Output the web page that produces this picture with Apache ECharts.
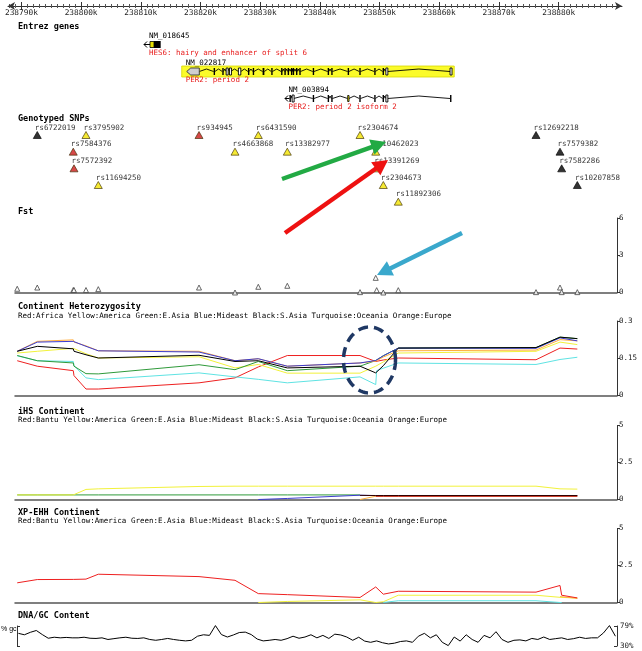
<!DOCTYPE html>
<html><head><meta charset="utf-8">
<script src="https://cdn.jsdelivr.net/npm/echarts@6/dist/echarts.min.js"></script>
<style>html,body{margin:0;padding:0;background:#fff}#c{width:642px;height:651px}</style>
</head><body><div id="c"></div>
<script>
// ================= DATA =================
const axisMajorKb = [238790,238800,238810,238820,238830,238840,238850,238860,238870,238880];

const geneIds = ['NM_018645','NM_022817','NM_003894'];
const geneDesc = ['HES6: hairy and enhancer of split 6','PER2: period 2','PER2: period 2 isoform 2'];
const geneTxStart = [238810.54, 238817.69, 238834.16];
const geneHighlighted = [false, true, false];
const geneExonStart = [
  [238811.54, 238812.21],
  [238817.69,238822.20,238823.65,238824.30,238824.85,238826.35,238827.95,238828.75,238830.40,238831.85,238833.50,238834.05,238834.60,238835.15,238835.45,238836.00,238836.55,238838.80,238841.30,238841.90,238844.65,238846.60,238849.10,238850.50,238851.05,238861.80],
  [238834.90,238835.35,238838.80,238841.30,238841.90,238844.65,238846.60,238849.10,238850.50,238851.05,238861.80]
];
const geneExonEnd = [
  [238812.21, 238813.33],
  [238819.80,238822.40,238823.85,238824.50,238825.05,238826.75,238828.15,238828.95,238830.70,238832.05,238833.70,238834.25,238834.80,238835.35,238835.65,238836.20,238836.75,238839.00,238841.50,238842.10,238844.85,238846.80,238849.30,238850.70,238851.35,238862.00],
  [238835.10,238835.60,238839.00,238841.50,238842.10,238844.85,238846.80,238849.30,238850.70,238851.35,238862.00]
];
const geneExonType = [
  ['yellow','cds'],
  ['utr','cds','cds','open','open','open','cds','cds','cds','cds','cds','cds','cds','cds','cds','cds','cds','cds','cds','cds','cds','cds','cds','cds','open','open'],
  ['cds','open','cds','cds','cds','yellow','cds','cds','cds','open','cds']
];

// SNPs (position in kb)
const snpNames = ['', 'rs6722019','rs7584376','rs7572392','rs3795902','rs11694250','rs934945','rs4663868','rs6431590','rs13382977','rs2304674','rs10462023','rs13391269','rs2304673','rs11892306','rs12692218','rs7579382','rs7582286','rs10207858'];
const snpPos = [238789.30,238792.66,238798.69,238798.81,238800.82,238802.88,238819.75,238825.78,238829.68,238834.54,238846.72,238849.35,238849.51,238850.62,238853.13,238876.20,238880.22,238880.50,238883.12];
const snpRow = [null,0,1,2,0,3,0,1,0,1,0,1,2,3,4,0,1,2,3];
const snpClass = [null,'black','red','red','yellow','yellow','red','yellow','yellow','yellow','yellow','yellow','yellow','yellow','yellow','black','black','black','black'];

// Fst at each SNP
const fstVal = [0.3,0.4,0.2,0.2,0.2,0.27,0.4,0,0.46,0.54,0.03,1.18,0.19,0,0.19,0.03,0.4,0.03,0.03];

// Continent heterozygosity at each SNP
const hetAfrica   = [0.140,0.118,0.100,0.080,0.026,0.026,0.051,0.071,0.115,0.161,0.161,0.137,0.140,0.143,0.151,0.144,0.191,0.190,0.187];
const hetAmerica  = [0.171,0.178,0.190,0.186,0.168,0.151,0.156,0.111,0.125,0.090,0.090,0.118,0.120,0.135,0.171,0.178,0.215,0.213,0.205];
const hetEAsia    = [0.161,0.140,0.131,0.118,0.088,0.087,0.124,0.104,0.137,0.100,0.118,0.141,0.145,0.160,0.191,0.193,0.235,0.233,0.229];
const hetOceania  = [0.160,0.140,0.137,0.120,0.071,0.064,0.091,0.075,0.065,0.051,0.075,0.044,0.100,0.110,0.131,0.125,0.145,0.147,0.154];
const hetEurope   = [0.178,0.218,0.224,0.215,0.200,0.180,0.178,0.140,0.148,0.118,0.131,0.138,0.140,0.155,0.180,0.183,0.225,0.224,0.220];
const hetMideast  = [0.178,0.215,0.218,0.212,0.198,0.180,0.175,0.140,0.148,0.118,0.131,0.141,0.145,0.160,0.191,0.190,0.232,0.230,0.220];
const hetSAsia    = [0.178,0.198,0.188,0.178,0.164,0.151,0.162,0.137,0.140,0.111,0.118,0.091,0.095,0.120,0.191,0.193,0.235,0.234,0.229];

// iHS at each SNP
const ihsEAsia   = [0.31,0.31,0.31,0.31,0.31,0.31,0.31,0.31,0.31,0.31,0.31,null,null,null,null,null,null,null,null];
const ihsAmerica = [0.31,0.31,0.31,0.35,0.68,0.72,0.88,0.90,0.90,0.90,0.90,0.90,0.90,0.90,0.90,0.90,0.72,0.70,0.70];
const ihsMideast = [null,null,null,null,null,null,null,null,0,0.07,0.29,0.26,0.26,0.26,0.26,0.26,0.26,0.26,0.26];
const ihsEurope  = [null,null,null,null,null,null,null,null,null,null,0,0.22,0.22,0.22,0.22,0.22,0.22,0.22,0.22];
const ihsBantu   = [null,null,null,null,null,null,null,null,null,null,null,0.22,0.22,0.22,0.22,0.22,0.22,0.22,0.22];
const ihsSAsia   = [null,null,null,null,null,null,null,null,null,null,0.28,0.27,0.27,0.27,0.27,0.27,0.27,0.27,0.27];

// XP-EHH at each SNP
const xpBantu    = [1.33,1.55,1.56,1.56,1.58,1.91,1.75,1.50,0.60,0.53,0.34,1.05,0.98,0.56,0.76,0.70,1.15,0.49,0.31];
const xpAmerica  = [null,null,null,null,null,null,null,null,0,0.07,0.18,0,0,0.05,0.49,0.49,0.35,0.35,0.30];
const xpOceania  = [null,null,null,null,null,null,null,null,null,null,null,null,null,0,0.12,0.12,0,0,null];
const xpEurope   = [null,null,null,null,null,null,null,null,null,null,null,null,null,null,null,null,0.40,0.42,0.28];

// GC content (%), 1 kb windows
const gcStartKb = 238789.5;
const gcStepKb = 1;
const gcVal = [61,57.5,63.5,68,58,49,51.5,50,51,50,50,51.5,49,48.5,50,46,48,50,51.5,49,48.5,50,46,44,46,48.5,46,44,42.5,44,54,57.5,56,80,58,52,57,63,64,58,47,42.5,44,46,44,48,54,49,52,57.5,50,56,48.5,59,57,52,44,51.5,42,39,42.5,38,35,37,41,42.5,39,54,61,50,57.5,39,31,52,42,57.5,46,39,56,50,65,46,39,44,45,42.5,48.5,46,52,46,48,50,46,48,51.5,48.5,50,50,62,80,54];

const hetLegend = 'Red:Africa Yellow:America Green:E.Asia Blue:Mideast Black:S.Asia Turquoise:Oceania Orange:Europe';
const popLegend = 'Red:Bantu Yellow:America Green:E.Asia Blue:Mideast Black:S.Asia Turquoise:Oceania Orange:Europe';

// ================= LAYOUT =================
const PX0 = 21.4, PX_PER_KB = 5.97;
const kbAt = px => 238790 + (px - PX0) / PX_PER_KB;
const MONOFAM = 'DejaVu Sans Mono';
const MONO = '"DejaVu Sans Mono", monospace';
const smallFont = '7.5px ' + MONO;
const titleFont = 'bold 8.5px ' + MONO;
const COL = {red:'#ee2020', yellow:'#f2f23a', green:'#2f9a3a', blue:'#3c3cd0', black:'#000000', turq:'#5fe3e3', orange:'#ffae3c'};
const snpColors = {black:'#000000', red:'#cc1a1a', yellow:'#f2e300'};

const PL = 15, PR = 642 - 617;
const pMin = kbAt(PL), pMax = kbAt(617);

const grids = [
  {left:8, right:20, top:5, height:1},            // 0 top ruler
  {left:PL, right:PR, top:30, height:82},          // 1 genes
  {left:PL, right:PR, top:126.67, height:83.33},   // 2 snps
  {left:PL, right:PR, top:218, height:74.5},       // 3 fst
  {left:PL, right:PR, top:321, height:74.5},       // 4 het
  {left:PL, right:PR, top:425.5, height:74},       // 5 ihs
  {left:PL, right:PR, top:528.5, height:74},       // 6 xp-ehh
  {left:17, right:PR, top:626, height:20}          // 7 gc
].map(g => Object.assign({outerBoundsMode:'none', containLabel:false}, g));

const minors = [];
for (let k = 238788; k <= 238890; k++) if (k % 10) minors.push(k);

const rulerBase = {gridIndex:0, type:'value', min:kbAt(8), max:kbAt(622), position:'bottom', splitLine:{show:false}, axisLine:{show:false, onZero:false}, axisLabel:{show:false}};
const xAxes = [
  Object.assign({}, rulerBase, {
    axisLine:{show:true, onZero:false, symbol:['arrow','arrow'], symbolSize:[6,7], lineStyle:{color:'#333', width:1}},
    axisTick:{show:true, customValues:axisMajorKb, length:4, lineStyle:{color:'#333'}},
    axisLabel:{show:true, customValues:axisMajorKb, formatter:v => Math.round(v) + 'k', fontSize:7.8, fontFamily:MONOFAM, color:'#222', margin:3}
  }),
  Object.assign({}, rulerBase, {axisTick:{show:true, inside:true, customValues:axisMajorKb, length:4, lineStyle:{color:'#333'}}}),
  Object.assign({}, rulerBase, {axisTick:{show:true, customValues:minors, length:2, lineStyle:{color:'#555'}}}),
  Object.assign({}, rulerBase, {axisTick:{show:true, inside:true, customValues:minors, length:2, lineStyle:{color:'#555'}}})
];
const baseLineAxis = {show:true, onZero:false, lineStyle:{color:'#555', width:1.5}};
for (let gi = 1; gi <= 7; gi++) {
  const showBase = gi >= 3 && gi <= 6;
  xAxes.push({gridIndex:gi, type:'value', min:gi === 7 ? kbAt(17) : pMin, max:pMax, show:showBase,
    axisLine:showBase ? baseLineAxis : {show:false, onZero:false},
    axisTick:{show:false}, axisLabel:{show:false}, splitLine:{show:false}});
}

const rightAxis = (gi, max, vals) => ({gridIndex:gi, type:'value', position:'right', min:0, max:max,
  axisLine:{show:true, lineStyle:{color:'#333'}}, axisTick:{show:true, customValues:vals, length:3, lineStyle:{color:'#333'}},
  axisLabel:{show:true, customValues:vals, fontSize:7.5, fontFamily:MONOFAM, color:'#222', margin:2}, splitLine:{show:false}});
const yAxes = [
  {gridIndex:0, type:'value', show:false},
  {gridIndex:1, type:'value', show:false, min:0, max:3, inverse:true},
  {gridIndex:2, type:'value', show:false, min:-0.5, max:4.5, inverse:true},
  rightAxis(3, 6, [0,3,6]),
  rightAxis(4, 0.3, [0,0.15,0.3]),
  rightAxis(5, 5, [0,2.5,5]),
  rightAxis(6, 5, [0,2.5,5]),
  {gridIndex:7, type:'value', position:'left', min:30, max:79, axisLine:{show:true, lineStyle:{color:'#333'}},
    axisTick:{show:true, inside:true, customValues:[30,79], length:3, lineStyle:{color:'#333'}}, axisLabel:{show:false}, splitLine:{show:false}},
  {gridIndex:7, type:'value', position:'right', min:30, max:79, axisLine:{show:true, lineStyle:{color:'#333'}},
    axisTick:{show:true, inside:true, customValues:[30,79], length:3, lineStyle:{color:'#333'}},
    axisLabel:{show:true, customValues:[30,79], formatter:v => v + '%', fontSize:7.5, fontFamily:MONOFAM, color:'#222', margin:3}, splitLine:{show:false}}
];

// ---- gene custom data ----
const typeCode = {cds:2, open:3, utr:4, yellow:5};
const geneData = [];
geneIds.forEach((id, g) => {
  if (geneHighlighted[g]) geneData.push([geneTxStart[g], geneExonEnd[g][geneExonEnd[g].length - 1], 8, g, g + 0.5]);
});
geneIds.forEach((id, g) => {
  const st = geneExonStart[g], en = geneExonEnd[g];
  if (geneTxStart[g] < st[0]) geneData.push([geneTxStart[g], st[0], 0, g, g + 0.5]);
  for (let i = 0; i < st.length - 1; i++) if (st[i + 1] > en[i]) geneData.push([en[i], st[i + 1], 1, g, g + 0.5]);
});
geneIds.forEach((id, g) => {
  const st = geneExonStart[g], en = geneExonEnd[g], ty = geneExonType[g];
  for (let i = 0; i < st.length; i++) geneData.push([st[i], en[i], typeCode[ty[i]], g, g + 0.5]);
  geneData.push([st[0], st[0], 9, g, g + 0.5]);
});

function renderGene(params, api) {
  const s = api.value(0), e = api.value(1), kind = api.value(2), g = api.value(3), row = api.value(4);
  const p1 = api.coord([s, row]), p2 = api.coord([e, row]);
  const y = Math.round(p1[1]) + 0.5;
  const x1 = p1[0], x2 = Math.max(p2[0], p1[0] + 1.4);
  if (kind === 8) return {type:'rect', shape:{x:x1 - 5, y:y - 5.5, width:(p2[0] + 3) - (x1 - 5), height:11}, style:{fill:'#fbfb2a', stroke:'#d8d800', lineWidth:0.8}};
  if (kind === 0) return {type:'group', children:[
    {type:'line', shape:{x1:x1, y1:y, x2:p2[0], y2:y}, style:{stroke:'#000', lineWidth:1}},
    {type:'polyline', shape:{points:[[x1 + 3, y - 3], [x1, y], [x1 + 3, y + 3]]}, style:{stroke:'#000', fill:null, lineWidth:1}}]};
  if (kind === 1) {
    const m = (x1 + p2[0]) / 2;
    return {type:'polyline', shape:{points:[[x1, y], [m, y - 2.5], [p2[0], y]]}, style:{stroke:'#000', fill:null, lineWidth:0.9}};
  }
  if (kind === 2) return {type:'rect', shape:{x:x1, y:y - 3.5, width:x2 - x1, height:7}, style:{fill:'#000'}};
  if (kind === 3) return {type:'rect', shape:{x:x1, y:y - 3.5, width:Math.max(x2 - x1, 2), height:7}, style:{fill:'#fff', stroke:'#000', lineWidth:0.9}};
  if (kind === 5) return {type:'rect', shape:{x:x1, y:y - 3, width:x2 - x1, height:6}, style:{fill:'#e8e000', stroke:'#000', lineWidth:0.8}};
  if (kind === 4) return {type:'polygon', shape:{points:[[x1, y], [x1 + 4, y - 3.5], [x2, y - 3.5], [x2, y + 3.5], [x1 + 4, y + 3.5]]}, style:{fill:'#cfcfcf', stroke:'#333', lineWidth:0.9}};
  if (kind === 9) return {type:'group', children:[
    {type:'text', x:x1 - 1, y:y - 8.5, style:{text:geneIds[g], font:smallFont, fill:'#000', verticalAlign:'middle', align:'left'}},
    {type:'text', x:x1 - 1, y:y + 8.5, style:{text:geneDesc[g], font:smallFont, fill:'#e82020', verticalAlign:'middle', align:'left'}}]};
  return null;
}

// ---- SNP data ----
const snpData = [];
snpPos.forEach((p, i) => {
  if (snpRow[i] === null) return;
  snpData.push({value:[p, snpRow[i]], name:snpNames[i],
    itemStyle:{color:snpColors[snpClass[i]], borderColor:snpClass[i] === 'black' ? '#000' : '#3a2a00', borderWidth:0.8}});
});

const pairs = arr => snpPos.map((p, i) => [p, arr[i]]).filter(d => d[1] !== null && d[1] !== undefined);
const lineS = (name, gi, arr, color) => ({type:'line', name:name, xAxisIndex:gi + 3, yAxisIndex:gi, data:pairs(arr),
  symbol:'none', lineStyle:{color:color, width:1}, itemStyle:{color:color}, animation:false, clip:false});

const series = [
  {type:'custom', xAxisIndex:4, yAxisIndex:1, data:geneData, renderItem:renderGene, encode:{x:[0,1], y:4}, clip:false, animation:false},
  {type:'scatter', xAxisIndex:5, yAxisIndex:2, data:snpData, symbol:'triangle', symbolSize:[8,7], animation:false, clip:false,
    label:{show:true, formatter:'{b}', position:[2,-3.5], align:'left', verticalAlign:'middle', fontSize:7.5, fontFamily:MONOFAM, color:'#000'}},
  {type:'scatter', xAxisIndex:6, yAxisIndex:3, data:pairs(fstVal), symbol:'triangle', symbolSize:[5,5], animation:false, clip:false,
    itemStyle:{color:'#fff', borderColor:'#444', borderWidth:1}, z:3},
  lineS('Africa', 4, hetAfrica, COL.red),
  lineS('America', 4, hetAmerica, COL.yellow),
  lineS('Oceania', 4, hetOceania, COL.turq),
  lineS('E.Asia', 4, hetEAsia, COL.green),
  lineS('Europe', 4, hetEurope, COL.orange),
  lineS('Mideast', 4, hetMideast, COL.blue),
  lineS('S.Asia', 4, hetSAsia, COL.black),
  lineS('E.Asia', 5, ihsEAsia, COL.green),
  lineS('America', 5, ihsAmerica, COL.yellow),
  lineS('Mideast', 5, ihsMideast, COL.blue),
  lineS('Europe', 5, ihsEurope, COL.orange),
  lineS('Bantu', 5, ihsBantu, '#c01818'),
  lineS('S.Asia', 5, ihsSAsia, '#300000'),
  lineS('America', 6, xpAmerica, COL.yellow),
  lineS('Oceania', 6, xpOceania, COL.turq),
  lineS('Europe', 6, xpEurope, COL.orange),
  lineS('Bantu', 6, xpBantu, COL.red),
  {type:'line', xAxisIndex:10, yAxisIndex:7, data:gcVal.map((v, i) => [gcStartKb + i * gcStepKb, v]), symbol:'none',
    lineStyle:{color:'#000', width:1}, animation:false, clip:false}
];

// ---- graphics: titles, legends, annotations ----
const txt = (x, y, t, font, fill) => ({type:'text', x:x, y:y, z:50, style:{text:t, font:font, fill:fill || '#000', verticalAlign:'middle', align:'left'}});
function arrowEls(tail, tip, color) {
  const dx = tip[0] - tail[0], dy = tip[1] - tail[1], L = Math.hypot(dx, dy);
  const ux = dx / L, uy = dy / L, nx = -uy, ny = ux, hl = 15, hw = 8;
  const bx = tip[0] - ux * hl, by = tip[1] - uy * hl;
  return [
    {type:'line', z:100, shape:{x1:tail[0], y1:tail[1], x2:bx + ux * 2, y2:by + uy * 2}, style:{stroke:color, lineWidth:4.5}},
    {type:'polygon', z:100, shape:{points:[[tip[0], tip[1]], [bx + nx * hw, by + ny * hw], [bx - nx * hw, by - ny * hw]]}, style:{fill:color}}
  ];
}
const ell = [];
for (let k = 0; k <= 72; k++) { const a = k / 72 * Math.PI * 2; ell.push([369.5 + 26 * Math.cos(a), 360 + 33 * Math.sin(a)]); }

const graphics = [
  txt(18, 27, 'Entrez genes', titleFont),
  txt(18, 119, 'Genotyped SNPs', titleFont),
  txt(18, 212, 'Fst', titleFont),
  txt(18, 307, 'Continent Heterozygosity', titleFont),
  txt(18, 316, hetLegend, smallFont),
  txt(18, 411.5, 'iHS Continent', titleFont),
  txt(18, 420, popLegend, smallFont),
  txt(18, 512.5, 'XP-EHH Continent', titleFont),
  txt(18, 521, popLegend, smallFont),
  txt(18, 616, 'DNA/GC Content', titleFont),
  txt(1, 629, '% gc', '7px "Liberation Sans", sans-serif'),
  {type:'polyline', z:100, shape:{points:ell}, style:{stroke:'#1f3864', fill:null, lineWidth:3.5, lineDash:[10,6]}}
].concat(arrowEls([282,179],[386,142],'#22aa44'), arrowEls([285,233],[388,160],'#ee1111'), arrowEls([462,233],[377,275],'#3aa8cc'));

const chart = echarts.init(document.getElementById('c'), null, {renderer:'canvas'});
chart.setOption({
  animation:false,
  backgroundColor:'#fff',
  grid:grids,
  xAxis:xAxes,
  yAxis:yAxes,
  series:series,
  graphic:{elements:graphics}
});
</script>
</body></html>
